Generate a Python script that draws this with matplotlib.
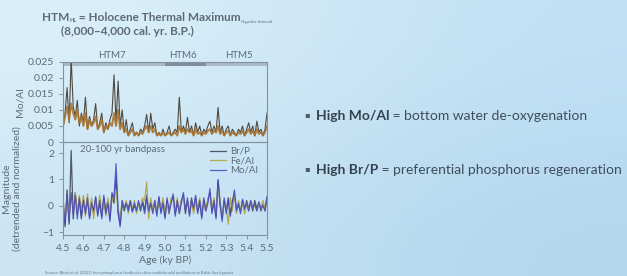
import matplotlib
matplotlib.use("Agg")
import matplotlib.pyplot as plt
import numpy as np

plt.rcParams['font.family'] = ['Lato', 'DejaVu Sans']

# ---------------- data ----------------
edad = np.linspace(4.5, 5.5, 101)   # ky BP, paso 0.01

moal_raw = [0.004, 0.009, 0.017, 0.006, 0.026, 0.011, 0.008, 0.013, 0.005, 0.009,
            0.006, 0.014, 0.004, 0.008, 0.005, 0.007, 0.012, 0.004, 0.006, 0.009,
            0.003, 0.006, 0.004, 0.007, 0.009, 0.021, 0.006, 0.019, 0.005, 0.010,
            0.003, 0.007, 0.002, 0.004, 0.006, 0.002, 0.003, 0.002, 0.004, 0.003,
            0.005, 0.0086, 0.003, 0.009, 0.004, 0.006, 0.002, 0.003, 0.002, 0.004,
            0.002, 0.003, 0.005, 0.002, 0.003, 0.004, 0.003, 0.014, 0.003, 0.005,
            0.003, 0.0077, 0.003, 0.005, 0.002, 0.006, 0.003, 0.005, 0.002, 0.004,
            0.003, 0.005, 0.0065, 0.003, 0.005, 0.003, 0.0108, 0.003, 0.005, 0.002,
            0.004, 0.005, 0.002, 0.004, 0.003, 0.002, 0.004, 0.003, 0.005, 0.002,
            0.004, 0.006, 0.003, 0.005, 0.002, 0.0065, 0.003, 0.004, 0.002, 0.004,
            0.009]

moal_suave = [0.005, 0.008, 0.011, 0.007, 0.012, 0.009, 0.007, 0.010, 0.006, 0.008,
              0.005, 0.009, 0.004, 0.007, 0.005, 0.006, 0.008, 0.004, 0.005, 0.007,
              0.003, 0.005, 0.004, 0.006, 0.005, 0.009, 0.005, 0.010, 0.004, 0.006,
              0.003, 0.004, 0.002, 0.003, 0.004, 0.002, 0.003, 0.002, 0.003, 0.0025,
              0.004, 0.005, 0.003, 0.005, 0.003, 0.004, 0.002, 0.0025, 0.002, 0.003,
              0.002, 0.0025, 0.003, 0.002, 0.0025, 0.003, 0.002, 0.005, 0.003, 0.004,
              0.0025, 0.004, 0.003, 0.0035, 0.002, 0.004, 0.0025, 0.003, 0.002, 0.003,
              0.0025, 0.0035, 0.004, 0.0025, 0.0035, 0.003, 0.005, 0.0025, 0.0035, 0.002,
              0.003, 0.0035, 0.002, 0.003, 0.0025, 0.002, 0.003, 0.0025, 0.0035, 0.002,
              0.003, 0.004, 0.0025, 0.0035, 0.002, 0.004, 0.0025, 0.003, 0.002, 0.003,
              0.005]

brp = [0.1, -0.8, 0.6, -0.7, 2.1, -0.5, 0.5, -0.3, 0.2, -0.5,
       0.3, -0.2, 0.2, -0.4, 0.2, -0.3, 0.3, -0.3, 0.1, -0.4,
       0.3, -0.2, 0.2, -0.5, 0.4, 0.1, 1.1, -0.3, -0.7, 0.1,
       -0.2, 0.1, -0.1, 0.2, -0.2, 0.0, -0.2, 0.1, -0.2, 0.2,
       -0.2, 0.4, -0.3, 0.2, -0.2, 0.1, -0.3, 0.3, -0.2, 0.2,
       -0.4, 0.2, -0.3, 0.2, 0.35, -0.3, 0.1, -0.2, 0.2, 0.4,
       -0.3, 0.2, -0.3, 0.3, -0.2, 0.3, -0.2, 0.1, -0.4, 0.2,
       -0.1, 0.2, 0.5, -0.2, 0.1, -0.4, 0.95, 0.0, -0.5, 0.2,
       -0.2, 0.3, -0.3, 0.2, 0.4, -0.1, 0.0, -0.2, 0.2, -0.2,
       0.2, -0.1, 0.1, -0.2, 0.2, -0.1, 0.1, -0.2, 0.1, -0.1,
       0.35]

feal = [0.3, -0.5, 0.3, -0.4, 0.4, -0.2, 0.5, -0.3, 0.4, -0.2,
        0.4, -0.4, 0.45, -0.3, 0.3, -0.5, 0.2, -0.2, 0.4, -0.3,
        0.2, -0.4, 0.3, -0.3, 0.2, 0.4, 0.6, -0.1, -0.5, 0.2,
        -0.1, 0.2, -0.3, 0.1, -0.1, 0.2, -0.3, 0.1, -0.1, 0.3,
        0.2, 0.9, -0.5, 0.3, -0.2, 0.2, -0.3, 0.2, -0.1, 0.3,
        -0.3, 0.1, -0.2, 0.3, 0.2, -0.2, 0.3, -0.3, 0.2, 0.3,
        -0.1, 0.2, -0.2, 0.1, -0.3, 0.2, -0.1, 0.3, -0.3, 0.1,
        -0.2, 0.3, 0.4, -0.1, 0.3, -0.3, 0.7, 0.2, -0.4, 0.1,
        -0.1, -0.7, 0.3, -0.2, 0.5, -0.3, 0.2, -0.2, 0.1, -0.3,
        0.1, -0.2, 0.2, -0.1, 0.0, -0.2, 0.1, -0.1, 0.2, -0.2,
        0.25]

moal_bp = [0.2, -0.7, 0.4, -0.6, 0.5, -0.3, 0.4, -0.5, 0.3, -0.4,
           0.2, -0.3, 0.3, -0.5, 0.1, -0.2, 0.35, -0.4, 0.2, -0.5,
           0.4, -0.3, 0.1, -0.6, 0.5, 0.3, 1.6, -0.2, -0.8, 0.2,
           -0.1, 0.1, -0.2, 0.15, -0.25, 0.1, -0.2, 0.2, -0.1, 0.1,
           -0.3, 0.3, -0.2, 0.1, -0.3, 0.2, -0.4, 0.35, -0.3, 0.1,
           -0.5, 0.3, -0.2, 0.1, 0.45, -0.4, 0.2, -0.3, 0.1, 0.5,
           -0.2, 0.3, -0.4, 0.2, -0.1, 0.4, -0.3, 0.2, -0.5, 0.3,
           -0.2, 0.1, 0.65, -0.3, 0.2, -0.5, 1.0, 0.1, -0.6, 0.3,
           -0.3, 0.2, -0.4, 0.1, 0.6, -0.2, 0.1, -0.3, 0.25, -0.1,
           0.1, -0.2, 0.2, -0.1, 0.1, -0.2, 0.15, -0.1, 0.0, -0.2,
           0.3]

fases = ['HTM7', 'HTM6', 'HTM5']
fase_ini = [4.5, 5.0, 5.2]
fase_fin = [5.0, 5.2, 5.5]
fase_lbl = [4.74, 5.09, 5.36]

# ---------------- figure ----------------
fig = plt.figure(figsize=(6.27, 2.76), dpi=100)

# fondo de la diapositiva (degradado azul claro)
bg = fig.add_axes([0, 0, 1, 1], zorder=-10)
grad = np.array([[[0.86, 0.94, 0.98], [0.76, 0.88, 0.96]],
                 [[0.80, 0.90, 0.96], [0.70, 0.84, 0.93]]])
bg.imshow(grad, aspect='auto', interpolation='bicubic', extent=[0, 1, 0, 1])
bg.axis('off')

gris = '#5d6b79'
borde = '#8393a3'

ax1 = fig.add_axes([0.1005, 0.4855, 0.3254, 0.2900])
ax2 = fig.add_axes([0.1005, 0.1486, 0.3254, 0.3369])
for ax in (ax1, ax2):
    ax.set_facecolor('none')
    for s in ax.spines.values():
        s.set_color(borde)
        s.set_linewidth(0.8)
    ax.tick_params(colors=borde, labelcolor=gris, labelsize=7.5, length=3, width=0.7)
    ax.set_xlim(4.5, 5.5)

# panel superior: Mo/Al
ax1.plot(edad, moal_raw, color='#4f4a40', lw=0.8)
ax1.plot(edad, moal_suave, color='#a87430', lw=1.4, alpha=0.9)
ax1.set_ylim(0, 0.025)
ax1.set_yticks([0, 0.005, 0.01, 0.015, 0.02, 0.025])
ax1.set_yticklabels(['0', '0.005', '0.01', '0.015', '0.02', '0.025'])
ax1.set_xticks([])
ax1.set_ylabel('Mo/Al', color=gris, fontsize=7.5)
ax1.yaxis.set_label_coords(-0.19, 0.5)

colores_fase = ['#a9b9c8', '#7e8e9e', '#a9b9c8']
for nom, a, b, xl, c in zip(fases, fase_ini, fase_fin, fase_lbl, colores_fase):
    ax1.axvspan(a, b, ymin=0.95, ymax=0.995, color=c, lw=0)
    ax1.text(xl, 1.02, nom, transform=ax1.get_xaxis_transform(), ha='center',
             va='bottom', fontsize=7, color=gris)

# panel inferior: bandpass
ax2.plot(edad, brp, color='#505a66', lw=0.9, label='Br/P')
ax2.plot(edad, feal, color='#b5aa50', lw=0.9, label='Fe/Al')
ax2.plot(edad, moal_bp, color='#4446c4', lw=0.9, alpha=0.85, label='Mo/Al')
ax2.set_ylim(-1.11, 2.42)
ax2.set_yticks([-1, 0, 1, 2])
ax2.set_xticks([4.5, 4.6, 4.7, 4.8, 4.9, 5.0, 5.1, 5.2, 5.3, 5.4, 5.5])
ax2.set_xticklabels(['4.5', '4.6', '4.7', '4.8', '4.9', '5.0', '5.1', '5.2', '5.3', '5.4', '5.5'])
ax2.set_xlabel('Age (ky BP)', color=gris, fontsize=7.5, labelpad=2)
ax2.set_ylabel('Magnitude\n(detrended and normalized)', color=gris, fontsize=7.5,
               linespacing=1.1)
ax2.yaxis.set_label_coords(-0.205, 0.5)
ax2.text(0.083, 0.915, '20-100 yr bandpass', transform=ax2.transAxes, fontsize=7,
         color=gris, va='center')
leg = ax2.legend(loc='upper right', bbox_to_anchor=(0.99, 1.02), frameon=False,
                 fontsize=7, handlelength=1.7, labelspacing=0.05, handletextpad=0.4,
                 borderpad=0.2)
for t in leg.get_texts():
    t.set_color(gris)

# ---------------- textos de la diapositiva ----------------
W, H = 627, 276
rend = fig.canvas.get_renderer()


def en_linea(x, y, partes):
    # coloca trozos de texto seguidos en la misma línea (x, y en píxeles desde arriba)
    for txt, dy, kw in partes:
        t = fig.text(x / W, 1 - (y + dy) / H, txt, va='baseline', **kw)
        bb = t.get_window_extent(renderer=rend)
        x = bb.x1


tit = dict(fontsize=8.5, weight='bold', color='#5f6a75')
en_linea(42, 21, [('HTM', 0, tit),
                  ('HL', 1.5, dict(fontsize=4, weight='bold', color='#5f6a75')),
                  (' = Holocene Thermal Maximum', 0, tit),
                  ('Hypsitic Interval', 1.5, dict(fontsize=3.2, color='#5f6a75'))])
fig.text(127 / W, 1 - 35 / H, '(8,000–4,000 cal. yr. B.P.)', ha='center', va='baseline', **tit)

txt_n = dict(fontsize=10, color='#3f4d5c')
txt_b = dict(fontsize=10, color='#34424f', weight='bold')
bala = dict(fontsize=6, color='#4f5d6c', family=['DejaVu Sans'])
en_linea(305, 120, [('▪  ', -2.5, bala),
                    ('High Mo/Al', 0, txt_b), (' = bottom water de-oxygenation', 0, txt_n)])
en_linea(305, 174, [('▪  ', -2.5, bala),
                    ('High Br/P', 0, txt_b), (' = preferential phosphorus regeneration', 0, txt_n)])

fig.text(45 / W, 1 - 274 / H,
         'Source: Bhatt et al. (2021) Iron-phosphorus feedbacks drive multidecadal oscillations in Baltic Sea hypoxia',
         fontsize=3, color='#6a7886', va='baseline')

fig.savefig('out.png', dpi=100)
